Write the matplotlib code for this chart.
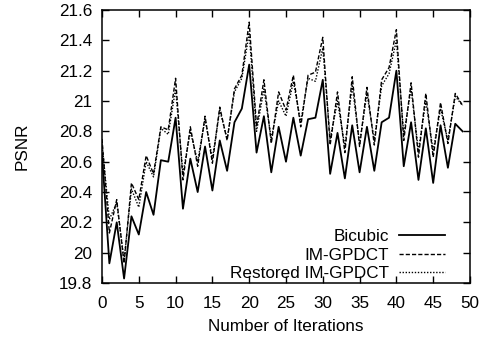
import numpy as np
import matplotlib
matplotlib.use("Agg")
import matplotlib.pyplot as plt
from matplotlib.ticker import MultipleLocator, FuncFormatter

plt.rcParams['font.family'] = ['Liberation Sans', 'DejaVu Sans']

iterations = np.arange(50)

bicubic = [20.65, 19.93, 20.2, 19.83, 20.24, 20.12, 20.4, 20.25, 20.61, 20.6,
           20.89, 20.29, 20.62, 20.4, 20.7, 20.41, 20.74, 20.54, 20.86, 20.95,
           21.24, 20.66, 20.9, 20.53, 20.83, 20.6, 20.89, 20.64, 20.88, 20.89,
           21.14, 20.52, 20.79, 20.49, 20.84, 20.53, 20.83, 20.54, 20.86, 20.89,
           21.2, 20.57, 20.86, 20.48, 20.82, 20.46, 20.84, 20.56, 20.85, 20.8]

im_gpdct = [20.75, 20.13, 20.35, 19.93, 20.46, 20.35, 20.64, 20.52, 20.83, 20.81,
            21.15, 20.48, 20.83, 20.57, 20.9, 20.59, 20.96, 20.74, 21.08, 21.17,
            21.52, 20.83, 21.14, 20.72, 21.06, 20.94, 21.17, 20.83, 21.17, 21.19,
            21.42, 20.71, 21.06, 20.66, 21.16, 20.7, 21.09, 20.71, 21.14, 21.22,
            21.47, 20.74, 21.12, 20.63, 21.05, 20.63, 20.99, 20.72, 21.05, 20.97]

restored = [20.72, 20.22, 20.33, 19.95, 20.42, 20.3, 20.6, 20.5, 20.82, 20.78,
            21.08, 20.52, 20.8, 20.6, 20.88, 20.62, 20.94, 20.75, 21.06, 21.15,
            21.45, 20.8, 21.08, 20.75, 21.0, 20.9, 21.13, 20.86, 21.15, 21.13,
            21.35, 20.75, 21.0, 20.7, 21.1, 20.72, 21.05, 20.74, 21.1, 21.18,
            21.4, 20.78, 21.08, 20.67, 21.0, 20.67, 20.95, 20.74, 21.03, 20.97]

fs = 12.3

fig = plt.figure(figsize=(4.89, 3.39), dpi=100)
ax = fig.add_axes([0.2086, 0.165, 0.7525, 0.8055])

ax.plot(iterations, bicubic, color='black', lw=1.3, ls='-', label='Bicubic')
ax.plot(iterations, im_gpdct, color='black', lw=1.0, ls=(0, (3, 1.5)), label='IM-GPDCT')
ax.plot(iterations, restored, color='black', lw=1.0, ls=(0, (1, 1.2)), label='Restored IM-GPDCT')

ax.set_xlim(0, 50)
ax.set_ylim(19.8, 21.6)
ax.xaxis.set_major_locator(MultipleLocator(5))
ax.yaxis.set_major_locator(MultipleLocator(0.2))
ax.yaxis.set_major_formatter(FuncFormatter(lambda v, p: '%g' % round(v, 1)))
ax.tick_params(direction='in', top=True, right=True, length=5, width=1,
               labelsize=fs)
ax.tick_params(axis='x', pad=9)
ax.tick_params(axis='y', pad=7)
for s in ax.spines.values():
    s.set_linewidth(1.1)

ax.set_xlabel('Number of Iterations', fontsize=fs, labelpad=6)
ax.set_ylabel('PSNR', fontsize=fs, labelpad=21)

leg = ax.legend(loc='lower right', bbox_to_anchor=(0.9375, 0.0), frameon=False,
                markerfirst=False, fontsize=fs, handlelength=2.7,
                labelspacing=0.22, borderaxespad=0.0, borderpad=0.1,
                handletextpad=0.6)
for t in leg.get_texts():
    t.set_ha('right')
leg._legend_box.align = 'right'

fig.savefig('out.png', dpi=100)
